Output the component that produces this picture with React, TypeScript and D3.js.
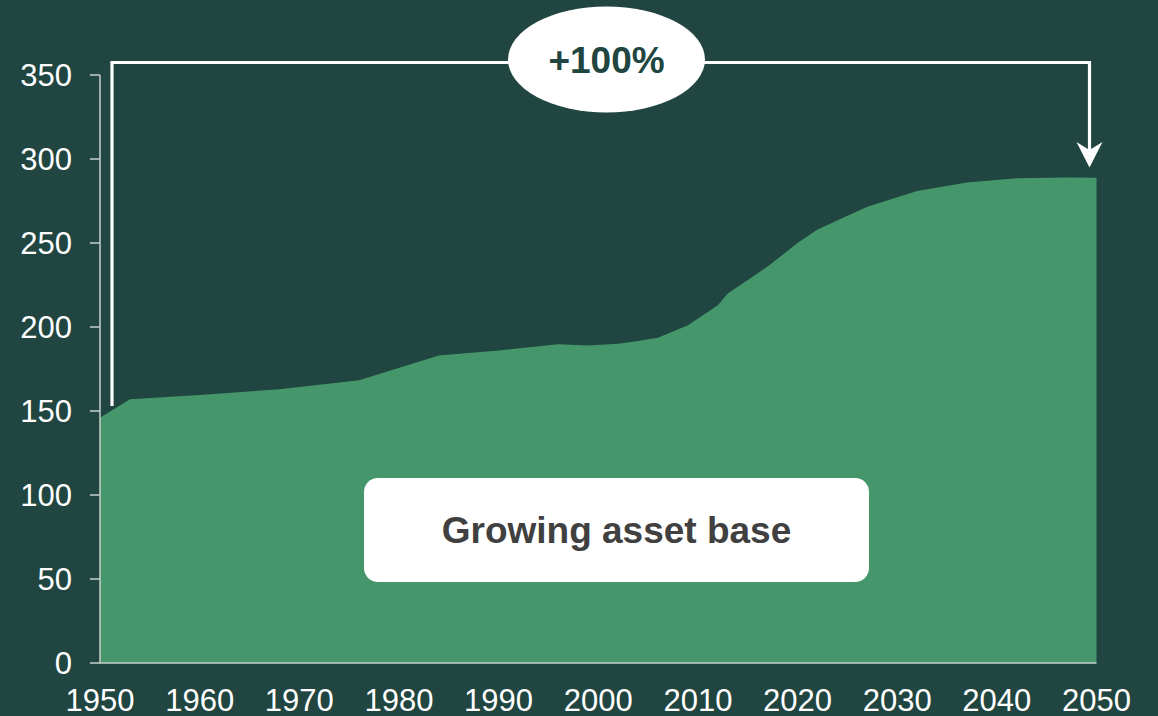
import React from "react";
import * as d3 from "d3";

const years = [1950, 1953, 1960, 1968, 1976, 1984, 1990, 1996, 1999, 2002, 2004, 2006, 2009, 2012, 2013, 2017, 2020, 2022, 2027, 2032, 2037, 2042, 2047, 2050];
const values = [146, 157, 159.5, 163, 168.3, 183, 186, 189.7, 189, 190, 191.7, 193.6, 201, 213, 220, 236, 250, 258, 271.6, 281, 286, 288.5, 289, 288.9];
const xTicks = [1950, 1960, 1970, 1980, 1990, 2000, 2010, 2020, 2030, 2040, 2050];
const yTicks = [0, 50, 100, 150, 200, 250, 300, 350];
const growthLabel = "+100%";
const boxLabel = "Growing asset base";

const W = 1158;
const H = 716;
const BG = "#214540";
const AREA = "#45976B";
const AXIS = "#c8cfcc";
const FONT = "'Liberation Sans', Arial, sans-serif";

export default function App() {
  const x = d3.scaleLinear().domain([1950, 2050]).range([100, 1096.5]);
  const y = d3.scaleLinear().domain([0, 350]).range([663, 75]);
  const data = years.map((yr, i) => ({ yr, v: values[i] }));
  const area = d3
    .area<{ yr: number; v: number }>()
    .x((d) => x(d.yr))
    .y0(y(0))
    .y1((d) => y(d.v))(data) as string;

  const bracketY = 62.5;
  const leftX = 112;
  const rightX = 1089.5;
  const tipY = 167.5;

  return (
    <svg
      width={W}
      height={H}
      style={{ position: "fixed", left: 0, top: 0, display: "block" }}
      fontFamily={FONT}
    >
      <rect x={0} y={0} width={W} height={H} fill={BG} />
      <path d={area} fill={AREA} />
      <line x1={x(1950)} x2={x(1950)} y1={y(350)} y2={y(0)} stroke={AXIS} strokeWidth={1.5} />
      <line x1={x(1950)} x2={x(2050)} y1={y(0)} y2={y(0)} stroke={AXIS} strokeWidth={1.5} />
      {yTicks.map((t) => (
        <g key={t}>
          <line x1={90} x2={x(1950)} y1={y(t)} y2={y(t)} stroke={AXIS} strokeWidth={1.5} />
          <text x={72} y={y(t)} dy="0.36em" textAnchor="end" fill="#ffffff" fontSize={31}>
            {t}
          </text>
        </g>
      ))}
      {xTicks.map((t) => (
        <text key={t} x={x(t)} y={711} textAnchor="middle" fill="#ffffff" fontSize={31}>
          {t}
        </text>
      ))}
      <path
        d={`M${leftX},406 L${leftX},${bracketY} L${rightX},${bracketY} L${rightX},${tipY - 8}`}
        fill="none"
        stroke="#ffffff"
        strokeWidth={3.2}
        strokeLinejoin="miter"
      />
      <path
        d={`M${rightX - 13},${142} L${rightX},${tipY} L${rightX + 13},${142} L${rightX},${150} Z`}
        fill="#ffffff"
      />
      <ellipse cx={606.5} cy={59.5} rx={98.5} ry={53} fill="#ffffff" />
      <text
        x={606.5}
        y={59.5}
        dy="0.36em"
        textAnchor="middle"
        fill={BG}
        fontSize={37}
        fontWeight="bold"
      >
        {growthLabel}
      </text>
      <rect x={364} y={478} width={505} height={104} rx={14} ry={14} fill="#ffffff" />
      <text
        x={616.5}
        y={530}
        dy="0.36em"
        textAnchor="middle"
        fill="#404040"
        fontSize={37}
        fontWeight="bold"
      >
        {boxLabel}
      </text>
    </svg>
  );
}
